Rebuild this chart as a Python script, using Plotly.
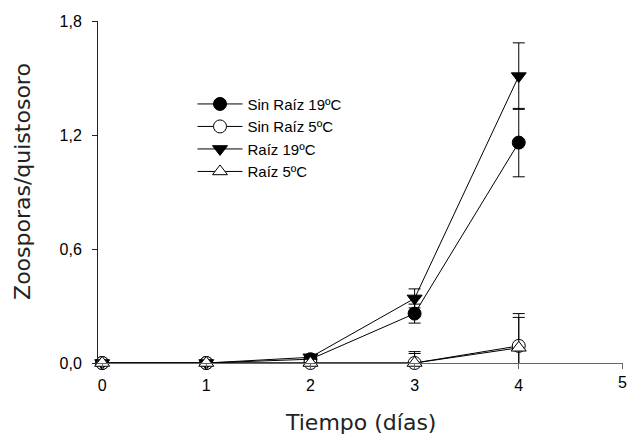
import plotly.graph_objects as go

days = [0, 1, 2, 3, 4]
sin_raiz_19 = [0.0, 0.0, 0.02, 0.26, 1.16]
sin_raiz_19_err = [0.0, 0.0, 0.01, 0.05, 0.18]
sin_raiz_5 = [0.0, 0.0, 0.0, 0.0, 0.09]
sin_raiz_5_err = [0.0, 0.0, 0.0, 0.05, 0.17]
raiz_19 = [0.0, 0.0, 0.03, 0.34, 1.51]
raiz_19_err = [0.0, 0.0, 0.01, 0.05, 0.175]
raiz_5 = [0.0, 0.0, 0.0, 0.0, 0.08]
raiz_5_err = [0.0, 0.0, 0.0, 0.06, 0.16]

names = ["Sin Raíz 19ºC", "Sin Raíz 5ºC", "Raíz 19ºC", "Raíz 5ºC"]
x_ticks = [0, 1, 2, 3, 4, 5]
y_ticks = [0.0, 0.6, 1.2, 1.8]
x_title = "Tiempo (días)"
y_title = "Zoosporas/quistosoro"

series = [
    (names[0], sin_raiz_19, sin_raiz_19_err, "circle", "black"),
    (names[1], sin_raiz_5, sin_raiz_5_err, "circle", "white"),
    (names[2], raiz_19, raiz_19_err, "triangle-down", "black"),
    (names[3], raiz_5, raiz_5_err, "triangle-up", "white"),
]

fig = go.Figure()
for name, vals, err, sym, fill in series:
    fig.add_trace(go.Scatter(
        x=days, y=vals, name=name, mode="lines+markers",
        line=dict(color="black", width=1),
        marker=dict(symbol=sym, size=13, color=fill, line=dict(color="black", width=1)),
        error_y=dict(type="data", array=err, visible=True, color="black", thickness=1, width=6),
        cliponaxis=False,
    ))

title_font = dict(family="DejaVu Sans, Verdana", size=22, color="#222")

# the last x tick label sits at the very end of the axis; draw it as an annotation so it is not hidden
tick_text = [str(v) for v in x_ticks[:-1]] + [""]
last_tick = dict(text=str(x_ticks[-1]), xref="x", yref="y", x=x_ticks[-1], y=0,
                 xanchor="center", yanchor="top", yshift=-9, showarrow=False,
                 font=dict(family="Liberation Sans, Arial", size=16, color="black"))

fig.update_layout(
    width=628, height=435,
    margin=dict(l=98, r=5, t=21, b=72),
    paper_bgcolor="white", plot_bgcolor="white",
    separators=",.",
    font=dict(family="Liberation Sans, Arial", size=16, color="black"),
    showlegend=True,
    legend=dict(x=0.18, y=0.805, xanchor="left", yanchor="top",
                bgcolor="rgba(0,0,0,0)", font=dict(size=15, family="Liberation Sans, Arial"),
                itemwidth=45, tracegroupgap=0),
    xaxis=dict(range=[-0.04, 5.001], tickvals=x_ticks, ticktext=tick_text,
               showgrid=False, zeroline=False, showline=True, linecolor="#666", linewidth=1,
               ticks="outside", ticklen=5, tickcolor="#666", automargin=False,
               ticklabeloverflow="allow", ticklabelstandoff=3,
               tickfont=dict(size=16)),
    yaxis=dict(range=[0, 1.8], tickvals=y_ticks, tickformat=".1f",
               showgrid=False, zeroline=False, showline=True, linecolor="#222", linewidth=1,
               ticks="outside", ticklen=5, tickcolor="#222", automargin=False,
               ticklabeloverflow="allow", ticklabelstandoff=7,
               tickfont=dict(size=16)),
    annotations=[
        dict(text=x_title, xref="paper", yref="paper", x=0.5, y=-0.175,
             xanchor="center", yanchor="middle", showarrow=False, font=title_font),
        dict(text=y_title, xref="paper", yref="paper", x=-0.145, y=0.532, textangle=-90,
             xanchor="center", yanchor="middle", showarrow=False, font=title_font),
        last_tick,
    ],
)

# remove the browser's default page margin so the 628x435 figure fills the window exactly
fig.write_html("out.html", config={"displayModeBar": False},
               post_script="document.body.style.margin='0';document.body.style.overflow='hidden';")
